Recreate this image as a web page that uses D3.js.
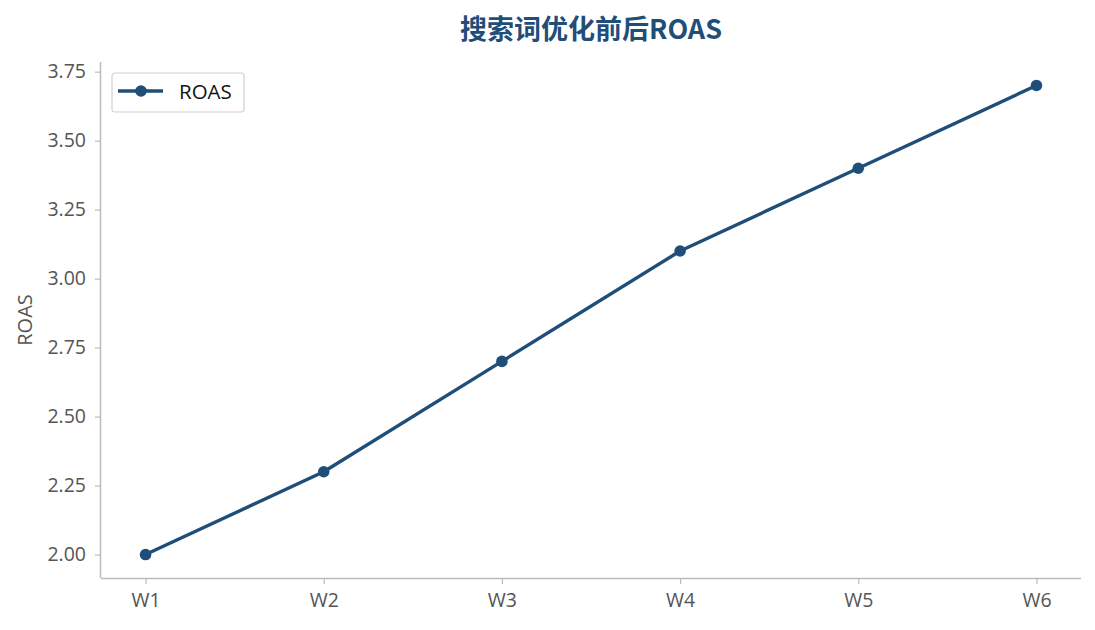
<!DOCTYPE html>
<html>
<head>
<meta charset="utf-8">
<script src="https://cdn.jsdelivr.net/npm/d3@7"></script>
<style>
  body { margin: 0; background: #fff; }
  svg { display: block; }
  .tick text { font-family: "Open Sans", "Noto Sans", sans-serif; font-size: 19.5px; fill: #555; }
</style>
</head>
<body>
<svg id="chart" width="1095" height="630"></svg>
<script>
const weeks = ["W1", "W2", "W3", "W4", "W5", "W6"];
const roas = [2.0, 2.3, 2.7, 3.1, 3.4, 3.7];
const yTicks = [2.0, 2.25, 2.5, 2.75, 3.0, 3.25, 3.5, 3.75];

const width = 1095, height = 630;
const margin = { top: 62, right: 14, bottom: 52, left: 101 };
const innerW = width - margin.left - margin.right;
const innerH = height - margin.top - margin.bottom;
const color = "#1f4e79";
const spine = "#bbbbbb";

const svg = d3.select("#chart");
const g = svg.append("g").attr("transform", `translate(${margin.left},${margin.top})`);

// x: point scale with matplotlib-like 5% margins
const xScale = d3.scalePoint().domain(weeks).range([0, innerW]).padding(0.25);
const pad = (d3.max(roas) - d3.min(roas)) * 0.05;
const yScale = d3.scaleLinear()
  .domain([d3.min(roas) - pad, d3.max(roas) + pad])
  .range([innerH, 0]);

// axes
const xAxis = g.append("g")
  .attr("transform", `translate(0,${innerH})`)
  .call(d3.axisBottom(xScale).tickSize(6).tickPadding(9));
const yAxis = g.append("g")
  .call(d3.axisLeft(yScale).tickValues(yTicks).tickFormat(d3.format(".2f")).tickSize(6).tickPadding(9));

[xAxis, yAxis].forEach(a => {
  a.select(".domain").attr("stroke", spine).attr("stroke-width", 1.5);
  a.selectAll(".tick line").attr("stroke", spine).attr("stroke-width", 1.2);
});
xAxis.select(".domain").attr("d", `M0,0.5H${innerW}`);
yAxis.select(".domain").attr("d", `M-0.5,${innerH}V0`);

// line
const line = d3.line()
  .x((d, i) => xScale(weeks[i]))
  .y(d => yScale(d));

g.append("path")
  .datum(roas)
  .attr("fill", "none")
  .attr("stroke", color)
  .attr("stroke-width", 3.4)
  .attr("stroke-linejoin", "round")
  .attr("d", line);

g.selectAll(".dot")
  .data(roas)
  .enter().append("circle")
  .attr("class", "dot")
  .attr("cx", (d, i) => xScale(weeks[i]))
  .attr("cy", d => yScale(d))
  .attr("r", 5.8)
  .attr("fill", color);

// title
svg.append("text")
  .attr("x", margin.left + innerW / 2)
  .attr("y", 39)
  .attr("text-anchor", "middle")
  .attr("font-family", "'Noto Sans CJK SC', sans-serif")
  .attr("font-weight", "bold")
  .attr("font-size", 27)
  .attr("fill", color)
  .text("搜索词优化前后ROAS");

// y label
svg.append("text")
  .attr("transform", `translate(32,${margin.top + innerH / 2}) rotate(-90)`)
  .attr("text-anchor", "middle")
  .attr("font-family", "'Open Sans', 'Noto Sans', sans-serif")
  .attr("font-size", 20)
  .attr("fill", "#555")
  .text("ROAS");

// legend
const legend = svg.append("g").attr("transform", "translate(112,73)");
legend.append("rect")
  .attr("width", 132).attr("height", 39)
  .attr("rx", 3)
  .attr("fill", "#fff")
  .attr("stroke", "#d0d0d0")
  .attr("stroke-width", 1.2);
legend.append("line")
  .attr("x1", 6).attr("x2", 51).attr("y1", 18).attr("y2", 18)
  .attr("stroke", color).attr("stroke-width", 3.4);
legend.append("circle")
  .attr("cx", 29).attr("cy", 18).attr("r", 5.8).attr("fill", color);
legend.append("text")
  .attr("x", 67).attr("y", 26)
  .attr("font-family", "'Open Sans', 'Noto Sans', sans-serif")
  .attr("font-size", 20.5)
  .attr("fill", "#111")
  .text("ROAS");
</script>
</body>
</html>
